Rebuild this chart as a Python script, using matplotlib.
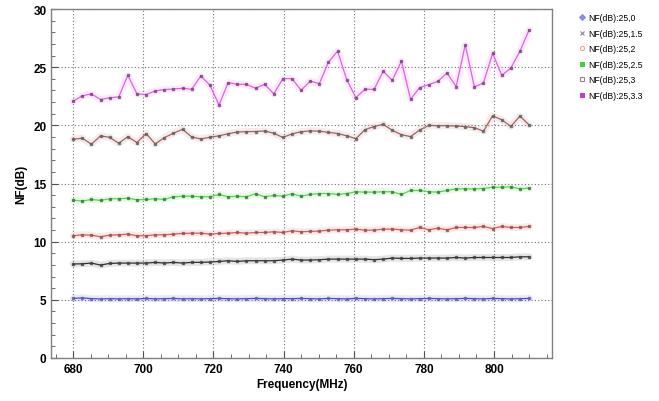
import numpy as np
import matplotlib
matplotlib.use("Agg")
import matplotlib.pyplot as plt
from matplotlib.lines import Line2D
from matplotlib.ticker import MultipleLocator

plt.rcParams['font.family'] = ['Liberation Sans', 'DejaVu Sans']

# frequency sweep (MHz)
freqs = [680, 682.6, 685.2, 687.8, 690.4, 693, 695.6, 698.2, 700.8, 703.4,
         706, 708.6, 711.2, 713.8, 716.4, 719, 721.6, 724.2, 726.8, 729.4,
         732, 734.6, 737.2, 739.8, 742.4, 745, 747.6, 750.2, 752.8, 755.4,
         758, 760.6, 763.2, 765.8, 768.4, 771, 773.6, 776.2, 778.8, 781.4,
         784, 786.6, 789.2, 791.8, 794.4, 797, 799.6, 802.2, 804.8, 807.4, 810]

nf_25_0 = [5.12, 5.17, 5.10, 5.08, 5.10, 5.08, 5.10, 5.08, 5.12, 5.08,
           5.10, 5.12, 5.08, 5.10, 5.08, 5.10, 5.12, 5.10, 5.08, 5.10,
           5.12, 5.10, 5.08, 5.10, 5.10, 5.12, 5.10, 5.08, 5.12, 5.10,
           5.08, 5.12, 5.10, 5.08, 5.10, 5.12, 5.10, 5.08, 5.10, 5.12,
           5.10, 5.08, 5.10, 5.12, 5.10, 5.08, 5.12, 5.10, 5.08, 5.10, 5.12]

nf_25_15 = [8.08, 8.10, 8.16, 7.99, 8.13, 8.16, 8.16, 8.16, 8.16, 8.22,
            8.16, 8.22, 8.16, 8.22, 8.22, 8.25, 8.30, 8.36, 8.30, 8.36,
            8.36, 8.36, 8.36, 8.42, 8.50, 8.42, 8.42, 8.45, 8.50, 8.50,
            8.50, 8.50, 8.50, 8.45, 8.50, 8.59, 8.56, 8.56, 8.59, 8.59,
            8.59, 8.59, 8.64, 8.59, 8.64, 8.64, 8.64, 8.64, 8.64, 8.70, 8.70]

nf_25_2 = [10.51, 10.59, 10.56, 10.42, 10.56, 10.59, 10.65, 10.51, 10.51, 10.59,
           10.59, 10.65, 10.71, 10.73, 10.73, 10.65, 10.71, 10.73, 10.79, 10.73,
           10.79, 10.79, 10.85, 10.79, 10.94, 10.85, 10.88, 10.91, 10.99, 11.02,
           11.02, 11.08, 10.99, 10.99, 11.08, 11.08, 11.02, 10.99, 11.22, 11.02,
           11.16, 11.02, 11.22, 11.22, 11.22, 11.31, 11.13, 11.31, 11.22, 11.22, 11.31]

nf_25_25 = [13.57, 13.49, 13.63, 13.55, 13.69, 13.69, 13.74, 13.60, 13.63, 13.69,
            13.63, 13.86, 13.91, 13.91, 13.86, 13.86, 14.06, 13.86, 13.91, 13.86,
            14.12, 13.86, 13.97, 13.91, 14.12, 13.91, 14.06, 14.14, 14.14, 14.06,
            14.14, 14.29, 14.26, 14.26, 14.29, 14.29, 14.06, 14.40, 14.40, 14.29,
            14.26, 14.40, 14.54, 14.54, 14.54, 14.57, 14.68, 14.68, 14.71, 14.54, 14.61]

nf_25_3 = [18.80, 18.90, 18.38, 19.09, 18.97, 18.46, 19.03, 18.52, 19.30, 18.40,
           18.95, 19.32, 19.66, 19.00, 18.83, 18.98, 19.10, 19.28, 19.43, 19.46,
           19.47, 19.52, 19.32, 18.96, 19.27, 19.45, 19.53, 19.50, 19.40, 19.30,
           19.10, 18.85, 19.63, 19.90, 20.09, 19.57, 19.20, 19.03, 19.60, 20.00,
           19.97, 19.97, 19.94, 19.89, 19.80, 19.50, 20.82, 20.48, 19.91, 20.80, 20.03]

nf_25_33 = [22.08, 22.54, 22.71, 22.22, 22.37, 22.45, 24.30, 22.70, 22.65, 22.96,
            23.08, 23.13, 23.19, 23.10, 24.25, 23.45, 21.74, 23.68, 23.53, 23.53,
            23.19, 23.53, 22.71, 24.02, 24.02, 23.02, 23.81, 23.59, 25.44, 26.38,
            23.93, 22.39, 23.10, 23.10, 24.64, 23.87, 25.53, 22.25, 23.25, 23.50,
            23.79, 24.50, 23.33, 26.92, 23.30, 23.65, 26.20, 24.30, 24.93, 26.38, 28.20]

labels = ['NF(dB):25,0', 'NF(dB):25,1.5', 'NF(dB):25,2',
          'NF(dB):25,2.5', 'NF(dB):25,3', 'NF(dB):25,3.3']
series = [nf_25_0, nf_25_15, nf_25_2, nf_25_25, nf_25_3, nf_25_33]
line_colors = ['#4848d8', '#303030', '#e05858', '#48e048', '#a86060', '#e060e8']
point_colors = ['#6060a0', '#404040', '#905050', '#407040', '#606060', '#804080']
# (marker, face, edge) for the legend
markers = [('D', '#8c8ce0', '#8c8ce0'), ('x', '#9080a0', '#9080a0'),
           ('o', 'none', '#f0a0a0'), ('s', '#40d040', '#40d040'),
           ('s', 'none', '#a08080'), ('s', '#c040c8', '#c040c8')]

fig = plt.figure(figsize=(6.59, 4.02), dpi=100)
ax = fig.add_axes([0.078, 0.107, 0.76, 0.868])

for y, c, pc in zip(series, line_colors, point_colors):
    ax.plot(freqs, y, color=c, lw=5, alpha=0.12, solid_capstyle='round', zorder=2)
    ax.plot(freqs, y, color=c, lw=0.9, zorder=3)
    ax.plot(freqs, y, ls='none', marker='s', ms=1.6, mfc=pc, mec=pc,
            alpha=0.75, zorder=4)

ax.set_xlim(673.8, 816.6)
ax.set_ylim(0, 30)
ax.xaxis.set_major_locator(MultipleLocator(20))
ax.xaxis.set_minor_locator(MultipleLocator(5))
ax.yaxis.set_major_locator(MultipleLocator(5))
ax.yaxis.set_minor_locator(MultipleLocator(1))
ax.tick_params(which='both', direction='in', colors='#505050', labelcolor='black',
               labelsize=8.5)
ax.tick_params(which='major', length=5)
ax.tick_params(which='minor', length=3)
for lab in ax.get_xticklabels() + ax.get_yticklabels():
    lab.set_fontweight('bold')
ax.grid(True, which='major', color='#707070', ls=(0, (1, 2)), lw=0.8)
for sp in ax.spines.values():
    sp.set_color('#808080')
    sp.set_linewidth(1.0)

ax.set_xlabel('Frequency(MHz)', fontsize=8.5, fontweight='bold', labelpad=2)
ax.set_ylabel('NF(dB)', fontsize=8.5, fontweight='bold', labelpad=4)

handles = [Line2D([], [], ls='none', marker=m, ms=3, mfc=f, mec=e, mew=0.8)
           for m, f, e in markers]
fig.legend(handles, labels, loc='upper left', bbox_to_anchor=(0.872, 0.975),
           frameon=False, fontsize=6.2, handlelength=0.6, handletextpad=0.5,
           labelspacing=0.75, borderpad=0)

fig.savefig('out.png', dpi=100)
